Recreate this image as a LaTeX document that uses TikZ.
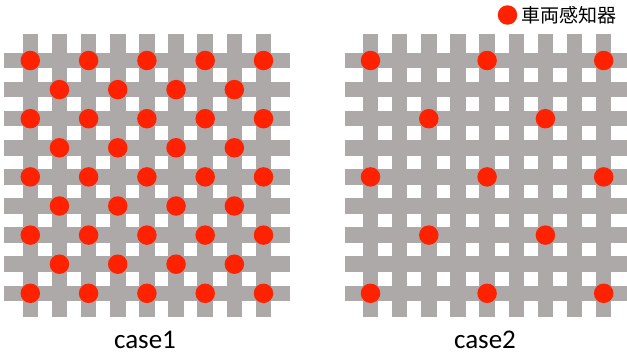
\documentclass[tikz,border=0pt]{standalone}
\usepackage{fontspec}
\setmainfont{Carlito}
\newfontfamily\cjk{Noto Sans CJK JP}
\definecolor{bargray}{RGB}{173,169,168}
\definecolor{dotred}{RGB}{255,34,0}
\begin{document}
\begin{tikzpicture}[x=1pt,y=-1pt,
  bar/.style={line width=15.5pt, draw=bargray},
  sensor/.style={circle, fill=dotred, minimum size=19.5pt, inner sep=0pt},
  caselabel/.style={anchor=base, inner sep=0pt, font=\fontsize{27}{32}\selectfont},
  legendtext/.style={anchor=west, inner sep=0pt, font=\cjk\fontsize{19}{22}\selectfont}]
\useasboundingbox (0,0) rectangle (627,356);
\begin{scope}
\clip (0,0) rectangle (627,356);
\foreach \ox in {30.3, 370.5} {
  \foreach \i in {0,...,8} {
    \draw[bar] (\ox+\i*29.15, 34) -- (\ox+\i*29.15, 317);
    \draw[bar] (\ox-26, 60.5+\i*29.1) -- (\ox+233.2+26, 60.5+\i*29.1);
  }
}
\end{scope}
% case1 sensors
\foreach \j in {0,2,4,6,8} \foreach \i in {0,2,4,6,8}
  \node[sensor] (a-\i-\j) at (30.3+\i*29.15, 60.5+\j*29.1) {};
\foreach \j in {1,3,5,7} \foreach \i in {1,3,5,7}
  \node[sensor] (a-\i-\j) at (30.3+\i*29.15, 60.5+\j*29.1) {};
% case2 sensors
\foreach \j in {0,4,8} \foreach \i in {0,4,8}
  \node[sensor] (b-\i-\j) at (370.5+\i*29.15, 60.5+\j*29.1) {};
\foreach \j in {2,6} \foreach \i in {2,6}
  \node[sensor] (b-\i-\j) at (370.5+\i*29.15, 60.5+\j*29.1) {};
% labels
\node[caselabel] (lab1) at (145,348) {case1};
\node[caselabel] (lab2) at (485,348) {case2};
% legend
\node[sensor] (legdot) at (507.5,15) {};
\node[legendtext] (legtext) at (521,15) {車両感知器};
\end{tikzpicture}
\end{document}
